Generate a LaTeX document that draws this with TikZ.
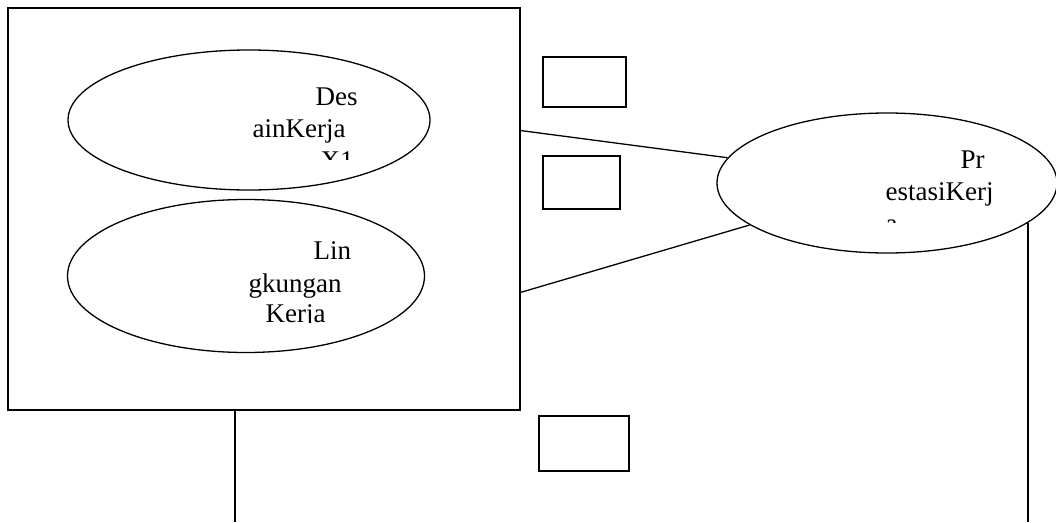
\documentclass[tikz,border=0pt]{standalone}
\usepackage{fontspec}
\setmainfont{Liberation Serif}
\usetikzlibrary{shapes.geometric}

\begin{document}
\begin{tikzpicture}[x=1pt,y=-1pt,line width=1.3pt,
        oval/.style={ellipse,draw,inner sep=0pt},
        box/.style={rectangle,draw,inner sep=0pt},
        word/.style={anchor=base west,inner sep=0pt,font=\fontsize{27}{32}\selectfont}]
        \useasboundingbox (0,0) rectangle (1056,522);
        \node[box,minimum width=512pt,minimum height=402pt] (frame) at (264,209) {};
        \node[oval,minimum width=362pt,minimum height=140pt] (desain) at (249,120) {};
        \node[oval,minimum width=357pt,minimum height=153pt] (lingk) at (246,276) {};
        \node[oval,minimum width=340pt,minimum height=140pt] (prestasi) at (887,183) {};
        \node[box,minimum width=83pt,minimum height=50pt] (b1) at (584.5,82) {};
        \node[box,minimum width=77pt,minimum height=53pt] (b2) at (581.5,182.5) {};
        \node[box,minimum width=90pt,minimum height=55pt] (b3) at (584,443.5) {};
        \coordinate (lbot) at (235,522);
        \coordinate (rbot) at (1028,522);

        % text inside the ovals (cut off at the bottom)
        \begin{scope}
            \clip (100,60) rectangle (420,159);
            \node[word] (d1) at (315,105) {Des};
            \node[word] (d2) at (252,137) {ainKerja};
            \node[word] (d3) at (320,169) {X1};
        \end{scope}
        \begin{scope}
            \clip (100,220) rectangle (420,322);
            \node[word] (l1) at (313,259) {Lin};
            \node[word] (l2) at (248,292) {gkungan};
            \node[word] (l3) at (265,322) {Kerja};
        \end{scope}
        \begin{scope}
            \clip (750,130) rectangle (1040,222);
            \node[word] (p1) at (960,168) {Pr};
            \node[word] (p2) at (885,200) {estasiKerj};
            \node[word] (p3) at (885,232) {a};
        \end{scope}

        \path
        (frame.17.6) edge (prestasi.171)
        (frame.342) edge (prestasi.197.5);
        \draw (frame.south -| lbot) -- (lbot);
        \draw (rbot |- prestasi.344.5) -- (rbot);
    \end{tikzpicture}
\end{document}
